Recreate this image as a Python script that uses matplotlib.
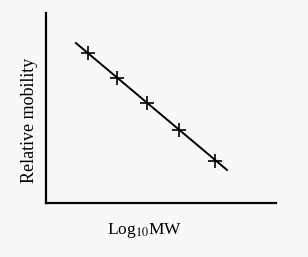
import numpy as np
import matplotlib
matplotlib.use('Agg')
import matplotlib.pyplot as plt

# Datos (unidades arbitrarias)
log_mw = [1.83, 3.09, 4.39, 5.78, 7.35]
mobility = [7.89, 6.58, 5.26, 3.84, 2.21]
fit_x = [1.30, 7.87]
fit_y = [8.42, 1.74]

plt.rcParams['mathtext.fontset'] = 'stix'

bg = '#f8f8f8'
fig = plt.figure(figsize=(3.08, 2.57), dpi=100, facecolor=bg)
ax = fig.add_axes([46/308, (257-203)/257, 230/308, 190/257], facecolor=bg)

ax.plot(fit_x, fit_y, color='black', linewidth=1.4)
ax.plot(log_mw, mobility, linestyle='none', marker='+', markersize=10,
        markeredgewidth=1.2, color='black')

ax.set_xlim(0, 10)
ax.set_ylim(0, 10)
ax.set_xticks([])
ax.set_yticks([])
for s in ['top', 'right']:
    ax.spines[s].set_visible(False)
for s in ['left', 'bottom']:
    ax.spines[s].set_linewidth(1.6)

fig.text(145/308, 1 - 230/257, r'Log$_{10}$MW', ha='center', va='center',
         fontsize=12.5, family='Liberation Serif')
fig.text(29/308, 1 - 120/257, 'Relative mobility', ha='center', va='center',
         rotation=90, fontsize=13, family='Liberation Serif')

fig.savefig('out.png', dpi=100, facecolor=bg)
